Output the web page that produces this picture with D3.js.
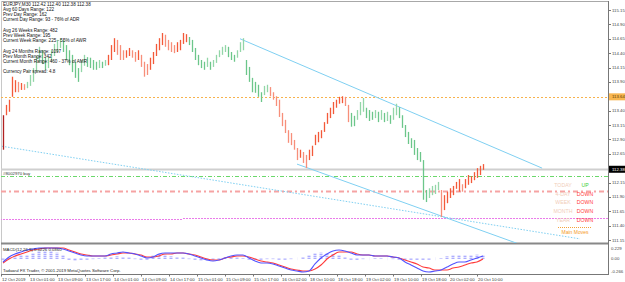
<!DOCTYPE html>
<html>
<head>
<meta charset="utf-8">
<script src="https://cdn.jsdelivr.net/npm/d3@7"></script>
<style>
  body { margin: 0; background: #fff; }
  svg { display: block; }
  text { font-family: "Liberation Sans", Arial, sans-serif; }
</style>
</head>
<body>
<script>
// price bars (high / low), M30
const highs = [
  113.32,113.50,113.59,113.99,113.93,113.90,113.88,113.86,113.90,114.02,
  114.14,114.35,114.51,114.45,114.32,114.33,114.45,114.56,114.63,114.66,
  114.63,114.54,114.45,114.37,114.25,114.14,114.28,114.37,114.33,114.32,
  114.28,114.25,114.28,114.25,114.28,114.37,114.54,114.66,114.63,114.54,
  114.45,114.45,114.49,114.45,114.42,114.45,114.37,114.25,114.21,114.32,
  114.42,114.56,114.66,114.75,114.72,114.63,114.59,114.54,114.59,114.63,
  114.75,114.73,114.68,114.63,114.49,114.37,114.28,114.25,114.32,114.25,
  114.28,114.37,114.45,114.51,114.54,114.51,114.42,114.37,114.45,114.59,
  114.66,114.28,114.16,113.97,113.90,113.85,113.72,113.83,113.85,113.81,
  113.72,113.65,113.59,113.36,113.24,113.06,113.01,112.89,112.75,112.72,
  112.68,112.63,112.72,112.79,112.98,113.03,113.06,113.20,113.36,113.45,
  113.55,113.59,113.64,113.65,113.64,113.50,113.36,113.31,113.41,113.55,
  113.62,113.45,113.41,113.38,113.41,113.38,113.41,113.36,113.38,113.32,
  113.45,113.52,113.46,113.32,113.15,113.03,112.92,112.89,112.75,112.68,
  112.54,112.02,112.05,112.09,112.11,112.16,112.02,111.93,111.99,112.05,
  112.09,112.16,112.21,112.12,112.21,112.28,112.26,112.33,112.40,112.44,
  112.47
];
const lows = [
  112.72,113.32,113.38,113.64,113.72,113.72,113.76,113.76,113.79,113.83,
  113.90,114.07,114.25,114.21,114.11,114.14,114.25,114.35,114.42,114.49,
  114.42,114.28,114.19,114.07,113.97,113.90,114.07,114.18,114.16,114.14,
  114.11,114.11,114.14,114.14,114.18,114.19,114.28,114.42,114.37,114.28,
  114.28,114.32,114.35,114.32,114.25,114.28,114.16,113.99,114.02,114.11,
  114.21,114.35,114.45,114.54,114.51,114.45,114.42,114.40,114.42,114.45,
  114.56,114.59,114.54,114.42,114.28,114.19,114.14,114.11,114.16,114.11,
  114.16,114.23,114.33,114.37,114.42,114.33,114.28,114.25,114.32,114.42,
  114.45,114.02,113.90,113.72,113.71,113.64,113.55,113.67,113.72,113.65,
  113.59,113.48,113.29,113.13,113.01,112.84,112.80,112.72,112.54,112.58,
  112.49,112.40,112.54,112.61,112.80,112.85,112.92,113.03,113.17,113.27,
  113.34,113.45,113.52,113.53,113.48,113.20,113.12,113.13,113.24,113.32,
  113.38,113.27,113.22,113.24,113.27,113.20,113.24,113.20,113.22,113.17,
  113.24,113.32,113.27,113.10,112.94,112.82,112.75,112.63,112.54,112.51,
  111.85,111.81,111.88,111.93,111.95,112.02,111.55,111.67,111.79,111.88,
  111.93,112.04,111.99,111.99,112.05,112.11,112.14,112.19,112.23,112.28,
  112.37
];
// bar colouring segments (bar index ranges)
const trendSegments = [
  { from: 0, to: 0, kind: "d" },
  { from: 1, to: 7, kind: "r" },
  { from: 8, to: 34, kind: "g" },
  { from: 35, to: 61, kind: "r" },
  { from: 62, to: 88, kind: "g" },
  { from: 89, to: 115, kind: "r" },
  { from: 116, to: 145, kind: "g" },
  { from: 146, to: 160, kind: "r" }
];

const timeLabels = [
  "12 Oct 2019","13 Oct 01:00","13 Oct 09:00","13 Oct 17:00","14 Oct 01:00",
  "14 Oct 09:00","14 Oct 17:00","15 Oct 01:00","15 Oct 09:00","15 Oct 17:00",
  "16 Oct 02:00","18 Oct 10:00","18 Oct 18:00","19 Oct 02:00","19 Oct 10:00",
  "19 Oct 18:00","20 Oct 02:00","20 Oct 10:00"
];
const priceTicks = [115.15,114.90,114.65,114.40,114.15,113.90,113.40,113.15,112.90,112.65,112.15,111.90,111.65,111.40,111.15];

// MACD(12,26,9)
const macdMain = [
  -0.072,0.035,0.100,0.143,0.186,0.207,0.229,0.229,0.229,0.229,
  0.207,0.164,0.121,0.078,0.057,0.057,0.057,0.057,0.100,0.121,
  0.143,0.121,0.100,0.057,0.014,0.035,0.100,0.121,0.121,0.121,
  0.121,0.100,0.057,0.014,-0.029,-0.051,-0.029,0.014,0.057,0.078,
  0.078,0.014,-0.051,-0.094,-0.094,-0.115,-0.158,-0.201,-0.244,-0.266,
  -0.287,-0.266,-0.115,0.014,0.100,0.164,0.186,0.164,0.121,0.078,
  0.078,0.078,0.057,0.057,0.057,0.035,0.014,-0.072,-0.137,-0.201,
  -0.266,-0.287,-0.266,-0.244,-0.180,-0.115,-0.072,-0.072,-0.029,0.014,
  0.057
];
const macdSignal = [
  -0.094,-0.008,0.057,0.100,0.143,0.186,0.207,0.229,0.229,0.229,
  0.229,0.186,0.143,0.100,0.078,0.057,0.057,0.057,0.078,0.100,
  0.121,0.121,0.100,0.078,0.035,0.035,0.057,0.100,0.100,0.121,
  0.121,0.100,0.078,0.035,-0.008,-0.029,-0.029,0.014,0.035,0.057,
  0.057,0.035,-0.008,-0.051,-0.072,-0.094,-0.137,-0.180,-0.223,-0.244,
  -0.266,-0.266,-0.223,-0.137,-0.008,0.078,0.143,0.143,0.143,0.100,
  0.078,0.078,0.057,0.057,0.057,0.035,0.014,-0.029,-0.072,-0.115,
  -0.180,-0.201,-0.244,-0.244,-0.244,-0.201,-0.180,-0.137,-0.094,-0.072,
  -0.008
];
const macdHist = [
  -0.02,0.03,0.05,0.06,0.08,0.12,0.15,0.16,0.15,0.13,
  0.08,-0.03,-0.05,-0.04,-0.02,-0.01,0.01,0.02,0.04,0.05,
  0.04,0.02,-0.01,-0.02,-0.02,0.06,0.10,0.09,0.05,0.03,
  0.02,-0.01,-0.03,-0.05,-0.05,-0.03,0.01,0.03,0.03,0.02,
  0.01,-0.02,-0.03,-0.02,-0.01,-0.01,-0.02,-0.02,-0.01,0.00,
  0.04,0.06,0.11,0.13,0.12,0.10,0.07,0.03,-0.02,-0.03,
  -0.01,0.00,0.01,0.01,0.00,-0.01,-0.02,-0.03,-0.04,-0.04,
  -0.03,-0.02,0.00,0.01,0.05,0.07,0.08,0.07,0.08,0.09,
  0.08
];
const macdTicks = [0.229, 0.00, -0.266];

const infoLines = [
  "EURJPY,M30  112.42 112.40 112.38 112.38",
  "Avg 60 Days Range: 122",
  "Prev Day Range: 162",
  "Current Day Range: 93 - 76% of ADR",
  "",
  "Avg 26 Weeks Range: 482",
  "Prev Week Range: 195",
  "Current Week Range: 225 - 55% of AWR",
  "",
  "Avg 24 Months Range: 1097",
  "Prev Month Range: 342",
  "Current Month Range: 460 - 37% of AMR",
  "",
  "Currency Pair spread: 4.8"
];

const moveNames = ["TODAY", "4-DAY", "WEEK", "MONTH", "YEAR"];
const moveDirs = ["UP", "DOWN", "DOWN", "DOWN", "DOWN"];

const pivotLevel = 113.64;
const orderLevel = 112.38;
const orderLabel = "#8002970 buy";
const greenLevel = 112.26;
const redLevel = 112.00;
const magentaLevels = [
  { from: -1, to: 60, price: 111.51 },
  { from: 60, to: 203, price: 111.53 }
];
const trendLines = [
  { i1: 79, p1: 114.65, i2: 179.7, p2: 112.40, dash: null },
  { i1: 98, p1: 112.47, i2: 172, p2: 111.08, dash: null },
  { i1: -0.3, p1: 112.78, i2: 192.3, p2: 111.17, dash: "1.5,1.5" }
];

// layout
const width = 625, height = 282;
const main = { left: 1, right: 608, top: 1, bottom: 243 };
const sub = { top: 244, bottom: 274 };

const svg = d3.select("body").append("svg")
  .attr("width", width)
  .attr("height", height);

const x = d3.scaleLinear().domain([0, highs.length - 1]).range([3, 483]);
const y = d3.scaleLinear().domain([115.15, 111.15]).range([10, 240]);
const xm = d3.scaleLinear().domain([0, macdMain.length - 1]).range([3, 483]);
const ym = d3.scaleLinear().domain([0.229, -0.266]).range([248, 271]);
const xt = d3.scalePoint().domain(timeLabels).range([1, 477]);

const defs = svg.append("defs");
defs.append("clipPath").attr("id", "clipMain").append("rect")
  .attr("x", main.left).attr("y", main.top)
  .attr("width", main.right - main.left).attr("height", main.bottom - main.top);
defs.append("clipPath").attr("id", "clipSub").append("rect")
  .attr("x", main.left).attr("y", sub.top)
  .attr("width", main.right - main.left).attr("height", sub.bottom - sub.top);

const crisp = v => Math.round(v) + 0.5;

// frames
svg.append("line").attr("x1", main.left).attr("x2", main.right).attr("y1", 1.5).attr("y2", 1.5)
  .attr("stroke", "#a8a8a8");
svg.append("line").attr("x1", 1.5).attr("x2", 1.5).attr("y1", main.top).attr("y2", sub.bottom)
  .attr("stroke", "#c8c8c8");
svg.append("line").attr("x1", main.right + 0.5).attr("x2", main.right + 0.5).attr("y1", main.top).attr("y2", sub.bottom)
  .attr("stroke", "#777");
svg.append("line").attr("x1", main.left).attr("x2", main.right).attr("y1", main.bottom + 0.5).attr("y2", main.bottom + 0.5)
  .attr("stroke", "#888").attr("stroke-width", 2);
svg.append("line").attr("x1", main.left).attr("x2", main.right + 1).attr("y1", sub.bottom + 0.5).attr("y2", sub.bottom + 0.5)
  .attr("stroke", "#777");

const g = svg.append("g").attr("clip-path", "url(#clipMain)");

// horizontal levels
const hLine = (price, color, w, dash) => g.append("line")
  .attr("x1", main.left).attr("x2", main.right)
  .attr("y1", crisp(y(price))).attr("y2", crisp(y(price)))
  .attr("stroke", color).attr("stroke-width", w)
  .attr("stroke-dasharray", dash);

hLine(pivotLevel, "#f7b24c", 1, "2,2");
hLine(orderLevel, "#cfcfcf", 2, null);
hLine(greenLevel, "#6ad86a", 1, "4,2,1,2");
hLine(redLevel, "#f6a3a3", 2, "5,3,2,3");

g.selectAll(".mag").data(magentaLevels).enter().append("line")
  .attr("x1", d => x(d.from)).attr("x2", d => x(d.to))
  .attr("y1", d => crisp(y(d.price))).attr("y2", d => crisp(y(d.price)))
  .attr("stroke", "#ea7cea").attr("stroke-dasharray", "2,1");

// trend lines
g.selectAll(".trend").data(trendLines).enter().append("line")
  .attr("x1", d => x(d.i1)).attr("y1", d => y(d.p1))
  .attr("x2", d => x(d.i2)).attr("y2", d => y(d.p2))
  .attr("stroke", "#7fd0f2").attr("stroke-width", 1)
  .attr("stroke-dasharray", d => d.dash);

// bars
const kindOf = i => trendSegments.find(s => i >= s.from && i <= s.to).kind;
const palette = {
  d: ["#b02020", "#b02020"],
  r: ["#f35a3a", "#f78f7a"],
  g: ["#6cc68a", "#93d6a8"]
};
const barColor = i => {
  const k = kindOf(i);
  if (i === 0) return palette[k][0];
  const mid = (highs[i] + lows[i]) / 2, prev = (highs[i - 1] + lows[i - 1]) / 2;
  const strong = k === "r" ? mid >= prev : mid <= prev;
  return palette[k][strong ? 0 : 1];
};

g.selectAll(".bar").data(highs).enter().append("line")
  .attr("x1", (d, i) => crisp(x(i))).attr("x2", (d, i) => crisp(x(i)))
  .attr("y1", d => y(d)).attr("y2", (d, i) => y(lows[i]))
  .attr("stroke", (d, i) => barColor(i))
  .attr("stroke-width", 1.3);

// order label
svg.append("text").attr("x", 3).attr("y", y(orderLevel) + 5.5)
  .attr("font-size", 4.3).attr("fill", "#333").text(orderLabel);

// info text
svg.append("g").selectAll("text").data(infoLines).enter().append("text")
  .attr("x", 3).attr("y", (d, i) => 5.8 + i * 5.2)
  .attr("font-size", 4.6).attr("fill", "#111")
  .text(d => d);

// main moves panel
const mm = svg.append("g");
mm.selectAll(".mn").data(moveNames).enter().append("text")
  .attr("x", 563).attr("y", (d, i) => 187 + i * 8.7)
  .attr("text-anchor", "middle").attr("font-size", 5.2).attr("fill", "#f1cdb9")
  .text(d => d);
mm.selectAll(".md").data(moveDirs).enter().append("text")
  .attr("x", 585).attr("y", (d, i) => 187 + i * 8.7)
  .attr("text-anchor", "middle").attr("font-size", 5.2)
  .attr("fill", d => d === "UP" ? "#3ccf3c" : "#ff3b3b")
  .text(d => d);
mm.append("line").attr("x1", 558).attr("x2", 592).attr("y1", 227.5).attr("y2", 227.5)
  .attr("stroke", "#f4a23a").attr("stroke-dasharray", "1,1");
mm.append("text").attr("x", 575).attr("y", 234).attr("text-anchor", "middle")
  .attr("font-size", 5).attr("fill", "#f59a1e").text("Main Moves");

// price axis
const axisG = svg.append("g");
axisG.selectAll(".pt").data(priceTicks).enter().append("line")
  .attr("x1", main.right + 1).attr("x2", main.right + 3)
  .attr("y1", d => crisp(y(d))).attr("y2", d => crisp(y(d)))
  .attr("stroke", "#777");
axisG.selectAll(".pl").data(priceTicks).enter().append("text")
  .attr("x", 612).attr("y", d => y(d) + 1.6)
  .attr("font-size", 4.3).attr("fill", "#444")
  .text(d => d.toFixed(2));

const priceTag = (price, bg, fg) => {
  axisG.append("rect").attr("x", 609).attr("y", y(price) - 3.5)
    .attr("width", 16).attr("height", 7).attr("fill", bg);
  axisG.append("text").attr("x", 612).attr("y", y(price) + 1.6)
    .attr("font-size", 4.3).attr("fill", fg).text(price.toFixed(2));
};
priceTag(pivotLevel, "#f8b650", "#5a3a00");
priceTag(orderLevel, "#000", "#fff");

// MACD window
const m = svg.append("g").attr("clip-path", "url(#clipSub)");
m.selectAll(".hist").data(macdHist).enter().append("line")
  .attr("x1", (d, i) => xm(i)).attr("x2", (d, i) => xm(i))
  .attr("y1", ym(0)).attr("y2", d => ym(d))
  .attr("stroke", "#7878ff").attr("stroke-width", 3)
  .attr("stroke-dasharray", "1,1").attr("opacity", 0.8);

const line = d3.line().x((d, i) => xm(i)).y(d => ym(d)).curve(d3.curveMonotoneX);
m.append("path").datum(macdSignal).attr("d", line)
  .attr("fill", "none").attr("stroke", "#ff3a3a").attr("stroke-width", 1.1);
m.append("path").datum(macdMain).attr("d", line)
  .attr("fill", "none").attr("stroke", "#5252ff").attr("stroke-width", 1.1);

svg.append("text").attr("x", 3).attr("y", 250.5).attr("font-size", 4.3).attr("fill", "#222")
  .text("MACD(12,26,9) 0.0226 0.0360");
svg.append("text").attr("x", 3).attr("y", 272.3).attr("font-size", 4.3).attr("fill", "#222")
  .text("Tadawul FX Trader, \u00a9 2001-2019 MetaQuotes Software Corp.");

svg.append("g").selectAll("text").data(macdTicks).enter().append("text")
  .attr("x", 611).attr("y", d => ym(d) + 1.6)
  .attr("font-size", 4.3).attr("fill", "#444")
  .text(d => d === 0 ? "0.00" : d.toFixed(3));

// time axis
const tAxis = svg.append("g");
tAxis.selectAll("line").data(timeLabels).enter().append("line")
  .attr("x1", d => crisp(xt(d))).attr("x2", d => crisp(xt(d)))
  .attr("y1", sub.bottom).attr("y2", sub.bottom + 2.5)
  .attr("stroke", "#777");
tAxis.selectAll("text").data(timeLabels).enter().append("text")
  .attr("x", d => xt(d) + 1).attr("y", 280.5)
  .attr("font-size", 4.3).attr("fill", "#333")
  .text(d => d);
</script>
</body>
</html>
